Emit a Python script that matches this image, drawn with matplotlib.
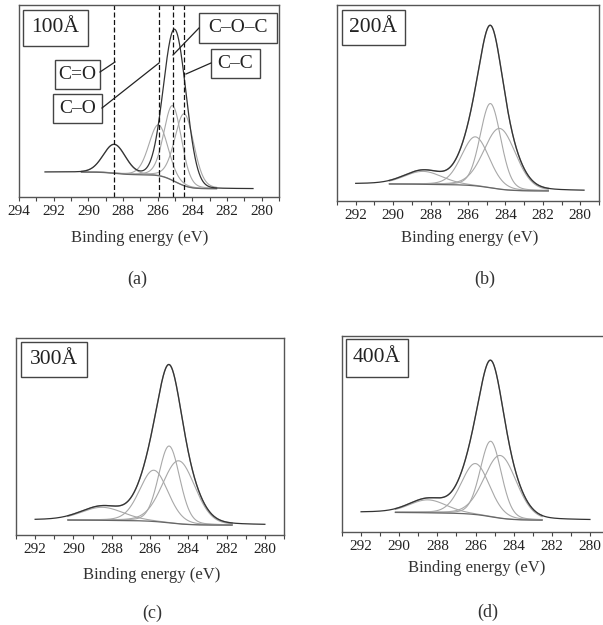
import numpy as np
import matplotlib.pyplot as plt
from matplotlib.patches import Rectangle
from matplotlib.lines import Line2D
from matplotlib.ticker import MultipleLocator

plt.rcParams['font.family'] = ['Liberation Serif', 'DejaVu Serif']

W, H = 603, 625

# labels
thickness = ['100Å', '200Å', '300Å', '400Å']
captions = ['(a)', '(b)', '(c)', '(d)']
peak_names = ['C=O', 'C–O', 'C–O–C', 'C–C']

# fitted components:
# centre (eV), height (% of frame height), FWHM (eV); order C=O, C-O, C-O-C, C-C
centers_a = [288.5, 285.95, 285.13, 284.46]
heights_a = [15.0, 26.5, 39.0, 37.5]
fwhm_a = [1.5, 1.3, 1.2, 1.3]

centers_b = [288.4, 285.6, 284.8, 284.3]
heights_b = [6.6, 25.0, 43.0, 31.0]
fwhm_b = [2.4, 1.75, 1.3, 2.0]

centers_c = [288.5, 285.8, 285.0, 284.5]
heights_c = [6.6, 26.0, 39.0, 32.0]
fwhm_c = [2.6, 1.75, 1.3, 2.0]

centers_d = [288.5, 286.0, 285.2, 284.7]
heights_d = [6.6, 26.0, 38.5, 32.0]
fwhm_d = [2.3, 1.75, 1.3, 2.0]

# measured spectrum of (a) is taller than its fitted components
spec_centers_a = [288.5, 285.25, 284.7]
spec_heights_a = [15.0, 49.0, 40.0]
spec_fwhm_a = [1.5, 1.35, 1.35]

# background levels (high BE side, low BE side)
bg_levels = [(13.0, 4.3), (8.7, 5.1), (7.6, 5.0), (10.0, 6.0)]
# scanned range and fitted range (eV)
scan_ranges = [(292.5, 280.5), (292.0, 279.8), (292.0, 280.0), (292.0, 280.0)]
fit_ranges = [(290.4, 282.6), (290.2, 281.7), (290.3, 281.7), (290.2, 282.5)]
xlims = [(294, 279), (293, 279), (293, 279), (293, 279)]

fits = [(centers_a, heights_a, fwhm_a), (centers_b, heights_b, fwhm_b),
        (centers_c, heights_c, fwhm_c), (centers_d, heights_d, fwhm_d)]
spectra = [(spec_centers_a, spec_heights_a, spec_fwhm_a), None, None, None]

# axes frames in pixels: left, top, right, bottom
frames = [(19, 5, 279, 197), (337, 5, 599, 201),
          (16, 338, 284, 535), (342, 336, 609, 532)]
xlabel_pos = [(140, 238), (470, 238), (152, 575), (477, 568)]
caption_pos = [(137, 279), (485, 279), (152, 613), (488, 612)]
tag_boxes = [(23, 10, 88, 46), (342, 10, 405, 45), (21, 342, 87, 377), (346, 339, 408, 377)]


def fx(x):
    return x / W


def fy(y):
    return 1 - y / H


def pvoigt(E, c, h, w, eta=0.15):
    x = (E - c) / w
    return h * (eta / (1 + 4 * x ** 2) + (1 - eta) * np.exp(-4 * np.log(2) * x ** 2))


def box_text(x0, y0, x1, y1, text, size):
    fig.patches.append(Rectangle((fx(x0), fy(y1)), fx(x1) - fx(x0), fy(y0) - fy(y1),
                                 transform=fig.transFigure, fill=False,
                                 edgecolor='#444444', lw=1.0))
    fig.text(fx((x0 + x1) / 2), fy((y0 + y1) / 2), text, ha='center', va='center',
             fontsize=size, color='#222222')


fig = plt.figure(figsize=(W / 100, H / 100), dpi=100)

for i in range(4):
    l, t, r, b = frames[i]
    ax = fig.add_axes([fx(l), fy(b), fx(r) - fx(l), fy(t) - fy(b)])
    hi, lo = scan_ranges[i]
    E = np.linspace(hi, lo, 800)
    comps = [pvoigt(E, c, h, w) for c, h, w in zip(*fits[i])]
    total = np.sum(comps, axis=0)
    if spectra[i] is None:
        spec = total
    else:
        spec = np.sum([pvoigt(E, c, h, w, 0.05) for c, h, w in zip(*spectra[i])], axis=0)
    # Shirley-type background from the cumulative peak area
    area = np.cumsum(spec[::-1])[::-1]
    frac = area / area[0]
    bl, br = bg_levels[i]
    bg = br + (bl - br) * frac

    f_hi, f_lo = fit_ranges[i]
    m = (E <= f_hi) & (E >= f_lo)
    for g in comps:
        ax.plot(E[m], bg[m] + g[m], color='#a8a8a8', lw=0.8)
    ax.plot(E[m], bg[m], color='#666666', lw=0.9)
    if spectra[i] is None:
        ax.plot(E[m], bg[m] + total[m], color='#9a9a9a', lw=1.0)
    ax.plot(E, bg + spec, color='#333333', lw=0.9)

    if i == 0:
        for c in fits[0][0]:
            ax.axvline(c, color='#111111', lw=0.9, ls=(0, (4, 2)))

    ax.set_xlim(*xlims[i])
    ax.set_ylim(0, 100)
    ax.xaxis.set_major_locator(MultipleLocator(2))
    ax.xaxis.set_minor_locator(MultipleLocator(1))
    ax.tick_params(axis='x', which='both', direction='out', length=3, width=0.8,
                   colors='#444444', labelcolor='#222222', labelsize=11, pad=3)
    ax.set_yticks([])
    for sp in ax.spines.values():
        sp.set_color('#555555')
        sp.set_linewidth(1.0)

    fig.text(fx(xlabel_pos[i][0]), fy(xlabel_pos[i][1]), 'Binding energy (eV)',
             ha='center', va='center', fontsize=12, color='#333333')
    fig.text(fx(caption_pos[i][0]), fy(caption_pos[i][1]), captions[i],
             ha='center', va='center', fontsize=13, color='#333333')
    box_text(*tag_boxes[i], thickness[i], 15.5)

# peak labels of panel (a) with leader lines
label_boxes = [(55, 60, 100, 89), (53, 94, 102, 123), (199, 13, 277, 43), (211, 49, 260, 78)]
leaders = [((100, 72), (115, 62)), ((102, 108), (159, 63)),
           ((199, 28), (173, 55)), ((211, 63), (186, 74))]
for name, bx, (p0, p1) in zip(peak_names, label_boxes, leaders):
    box_text(*bx, name, 14)
    fig.lines.append(Line2D([fx(p0[0]), fx(p1[0])], [fy(p0[1]), fy(p1[1])],
                            transform=fig.transFigure, color='#222222', lw=0.9))

fig.savefig('out.png', dpi=100, facecolor='white')
